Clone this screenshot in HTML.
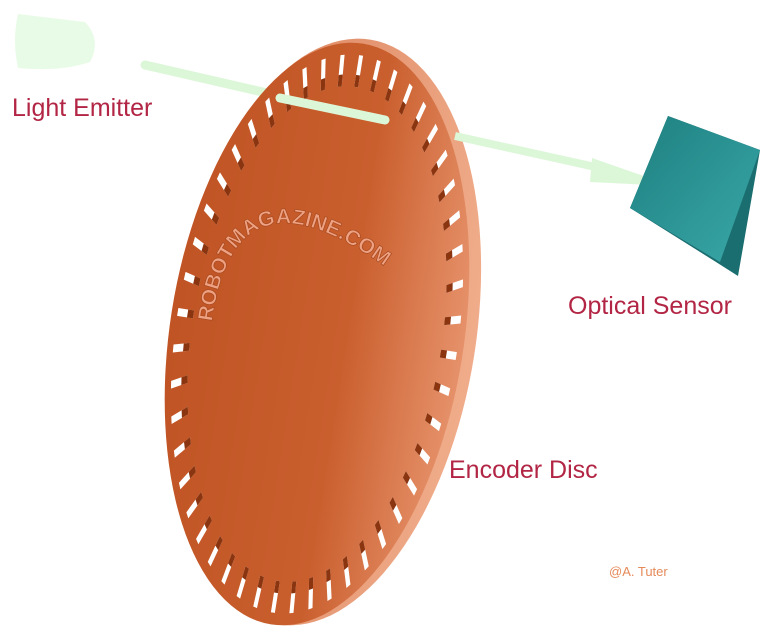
<!DOCTYPE html>
<html><head><style>
html,body{margin:0;padding:0;background:#fff;}
svg{display:block;}
text{font-family:"Liberation Sans",sans-serif;}
</style></head><body>
<svg width="768" height="633" viewBox="0 0 768 633" xmlns="http://www.w3.org/2000/svg">
<defs>
<linearGradient id="disc" x1="0" y1="0" x2="1" y2="0">
<stop offset="0" stop-color="#c05424"/>
<stop offset="0.6" stop-color="#ca5f2e"/>
<stop offset="1" stop-color="#e6916a"/>
</linearGradient>
<linearGradient id="rim" x1="0" y1="0" x2="1" y2="0">
<stop offset="0" stop-color="#d9805a"/>
<stop offset="1" stop-color="#f0ac8a"/>
</linearGradient>
<linearGradient id="sens" x1="0" y1="0" x2="1" y2="1">
<stop offset="0" stop-color="#1e7f80"/>
<stop offset="1" stop-color="#3aa8a8"/>
</linearGradient>
<g id="s"><rect x="125" y="-2" width="16" height="4" fill="#fff"/><rect x="125" y="-2" width="6" height="4" fill="#8a3510"/></g>
<g id="q"><use href="#s"/><use href="#s" transform="rotate(7.5)"/><use href="#s" transform="rotate(15)"/><use href="#s" transform="rotate(22.5)"/></g>
<g id="h"><use href="#q"/><use href="#q" transform="rotate(30)"/><use href="#q" transform="rotate(60)"/></g>
<path id="arc" d="M212,322 Q235,150 400,278"/>
</defs>
<path d="M18,14 L85,22 Q102,40 90,62 Q60,72 18,68 Q12,40 18,14Z" fill="#e8fbe6"/>
<line x1="145" y1="65" x2="385" y2="120" stroke="#dcf7d8" stroke-width="9" stroke-linecap="round"/>
<g transform="translate(324,332) rotate(9)">
<ellipse cx="0" cy="0" rx="152" ry="296" fill="url(#rim)"/>
</g>
<g transform="translate(317,334) rotate(9) scale(1,2)">
<circle r="147" fill="url(#disc)"/>
<use href="#h"/><use href="#h" transform="rotate(90)"/><use href="#h" transform="rotate(180)"/><use href="#h" transform="rotate(270)"/>
</g>
<line x1="280" y1="98" x2="385" y2="120" stroke="#dcf7d8" stroke-width="9" stroke-linecap="round"/>
<line x1="455" y1="136" x2="600" y2="168" stroke="#dcf7d8" stroke-width="8"/>
<path d="M592,158 L672,186 L590,182 Z" fill="#dcf7d8"/>
<path d="M668,116 L760,150 L738,276 L716,262 L630,208 Z" fill="#1b6e70"/>
<path d="M668,116 L760,150 L720,262 L630,208 Z" fill="url(#sens)"/>
<text font-size="21" font-weight="bold" fill="#eea283" stroke="#a84a20" stroke-width="0.7"><textPath href="#arc" textLength="245" lengthAdjust="spacingAndGlyphs">ROBOTMAGAZINE.COM</textPath></text>
<text x="12" y="116" font-size="25" fill="#b22544">Light Emitter</text>
<text x="568" y="314" font-size="25" fill="#b22544">Optical Sensor</text>
<text x="449" y="478" font-size="25" fill="#b22544">Encoder Disc</text>
<text x="609" y="576" font-size="13" fill="#e58a5a">@A. Tuter</text>
</svg>
</body></html>
